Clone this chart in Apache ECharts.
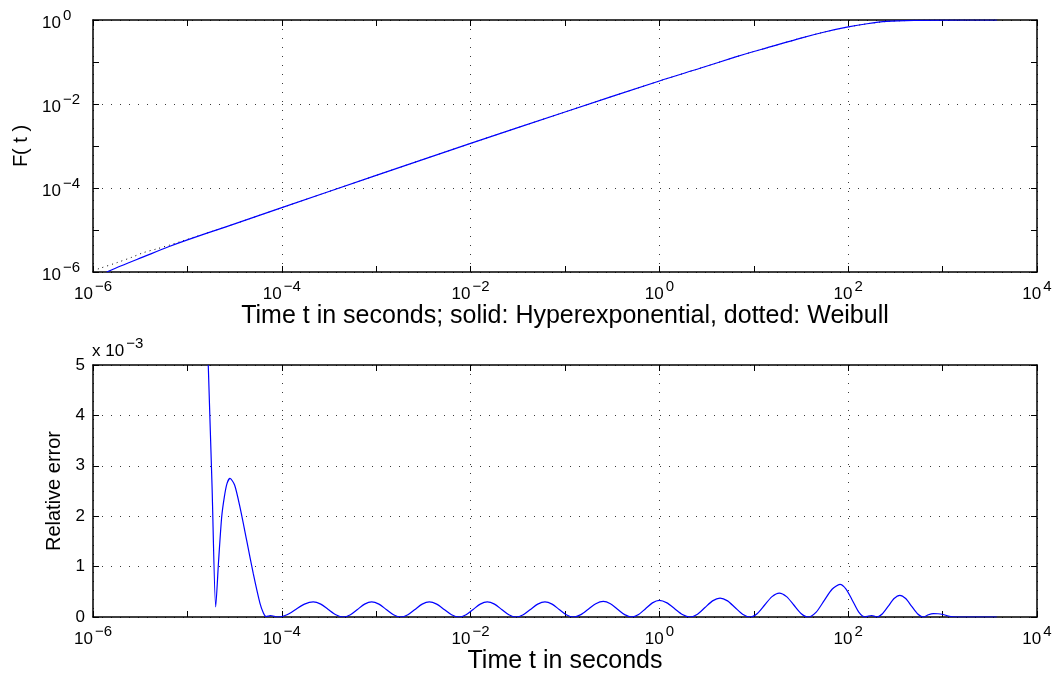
<!DOCTYPE html>
<html>
<head>
<meta charset="utf-8">
<script src="https://cdn.jsdelivr.net/npm/echarts@6/dist/echarts.min.js"></script>
<style>
  html, body { margin: 0; padding: 0; background: #fff; }
  #chart { width: 1060px; height: 677px; }
</style>
</head>
<body>
<div id="chart"></div>
<script>
// Time axis is drawn in decades: values are log10(t / s).
// Upper panel: log10 F(t) of the hyperexponential fit (solid).
const hyperLogT = [-5.855, -5.70, -5.467, -5.20, -5.00, -4.60, -4.00, -3.00, -2.00, -1.00,
                   0.00, 0.43, 0.80, 1.00, 1.136, 1.50, 1.75, 2.00, 2.20, 2.408, 2.70, 3.00, 3.576];
const hyperLogF = [-6.00, -5.85, -5.64, -5.40, -5.235, -4.93, -4.468, -3.70, -2.937, -2.19,
                   -1.452, -1.15, -0.885, -0.75, -0.665, -0.43, -0.285, -0.165, -0.09, -0.035, -0.008, -0.001, 0.00];

// Upper panel: log10 F(t) of the Weibull distribution (dotted).
const weibullLogT = [-6.00, -5.926, -5.749, -5.590, -5.467, -5.325, -5.184, -5.078, -4.60, -4.00,
                     -3.00, -2.00, -1.00, 0.00, 0.43, 0.80, 1.00, 1.136, 1.50, 1.75, 2.00, 2.20, 2.408, 2.70, 3.00, 3.576];
const weibullLogF = [-5.97, -5.912, -5.779, -5.65, -5.54, -5.45, -5.357, -5.279, -4.93, -4.468,
                     -3.70, -2.937, -2.19, -1.452, -1.15, -0.885, -0.75, -0.665, -0.43, -0.285, -0.165, -0.09, -0.035, -0.008, -0.001, 0.00];

// Lower panel: relative error between the two, in units of 10^-3.
const errLogT = [
  -4.779, -4.739, -4.700, -4.670, -4.637, -4.609, -4.580, -4.549, -4.500, -4.443,
  -4.372, -4.302, -4.231, -4.195, -4.167, -4.140, -4.118, -4.080, -4.037,
  -3.945, -3.852, -3.760, -3.667, -3.587, -3.508, -3.428, -3.348,
  -3.273, -3.198, -3.123, -3.048, -2.971, -2.894, -2.817, -2.740,
  -2.664, -2.589, -2.513, -2.437, -2.359, -2.280, -2.202, -2.123,
  -2.048, -1.973, -1.898, -1.823, -1.747, -1.671, -1.595, -1.519,
  -1.442, -1.366, -1.289, -1.212, -1.137, -1.062, -0.987, -0.912,
  -0.832, -0.753, -0.674, -0.594, -0.519, -0.444, -0.368, -0.293,
  -0.220, -0.147, -0.074, -0.001, 0.080, 0.162, 0.243, 0.324,
  0.404, 0.483, 0.563, 0.642, 0.722, 0.801, 0.881, 0.960,
  1.038, 1.115, 1.193, 1.270, 1.347, 1.424, 1.500, 1.577,
  1.661, 1.745, 1.829, 1.913, 1.979, 2.046, 2.112, 2.178,
  2.214, 2.249, 2.280, 2.302,
  2.363, 2.425, 2.486, 2.547, 2.609, 2.671, 2.734, 2.796,
  2.850, 2.901, 2.950, 3.004, 3.060, 3.110, 3.200, 3.573
];
const relErrE3 = [
  5.00, 2.60, 0.20, 1.10, 1.98, 2.38, 2.65, 2.75, 2.62, 2.18,
  1.52, 0.86, 0.27, 0.08, 0.01, 0.02, 0.03, 0.015, 0.00,
  0.045, 0.15, 0.255, 0.30, 0.255, 0.15, 0.045, 0.00,
  0.045, 0.15, 0.255, 0.30, 0.255, 0.15, 0.045, 0.00,
  0.045, 0.15, 0.255, 0.30, 0.255, 0.15, 0.045, 0.00,
  0.045, 0.15, 0.255, 0.30, 0.255, 0.15, 0.045, 0.00,
  0.045, 0.15, 0.255, 0.30, 0.255, 0.15, 0.045, 0.00,
  0.047, 0.155, 0.264, 0.31, 0.264, 0.155, 0.047, 0.00,
  0.05, 0.165, 0.28, 0.33, 0.28, 0.165, 0.05, 0.00,
  0.056, 0.188, 0.32, 0.376, 0.32, 0.188, 0.056, 0.00,
  0.071, 0.238, 0.404, 0.475, 0.404, 0.238, 0.071, 0.00,
  0.097, 0.324, 0.55, 0.647, 0.55, 0.324, 0.097, 0.00,
  0.02, 0.03, 0.015, 0.00,
  0.065, 0.215, 0.366, 0.43, 0.366, 0.215, 0.065, 0.00,
  0.045, 0.067, 0.065, 0.05, 0.02, 0.005, 0.00, 0.00
];

// Labelled decades on the time axis and on the F(t) axis.
const timeDecadeLabels = { '-6': '−6', '-4': '−4', '-2': '−2', '0': '0', '2': '2', '4': '4' };
const probDecadeLabels = { '-6': '−6', '-4': '−4', '-2': '−2', '0': '0' };
const errTickLabels = ['0', '1', '2', '3', '4', '5'];

const FONT = 'Liberation Sans, Arial, Helvetica, sans-serif';
const BLUE = '#0000ff';

const powerRich = {
  b: { fontSize: 17, fontFamily: FONT, color: '#000', lineHeight: 24, verticalAlign: 'bottom' },
  s: { fontSize: 15, fontFamily: FONT, color: '#000', lineHeight: 10, verticalAlign: 'top', padding: [0, 0, 0, 2] }
};
const powerLabel = table => v => {
  const key = String(Math.round(v));
  return table[key] !== undefined ? '{b|10}{s|' + table[key] + '}' : '';
};

const boxLine = { show: true, onZero: false, lineStyle: { color: '#000', width: 1.5 } };
const tickIn = { show: true, inside: true, length: 6, lineStyle: { color: '#000', width: 1 } };
const minorIn = { show: true, splitNumber: 2, length: 6, lineStyle: { color: '#000', width: 1 } };
const dotted = { show: true, lineStyle: { color: '#3a3a3a', width: 1, type: [1, 8] } };

function timeAxis(gridIndex, title, gap) {
  return {
    type: 'value', gridIndex, min: -6, max: 4, interval: 2,
    axisLine: boxLine, axisTick: tickIn, minorTick: minorIn, splitLine: dotted,
    axisLabel: {
      show: true, margin: 7, fontSize: 17, fontFamily: FONT, color: '#000',
      formatter: powerLabel(timeDecadeLabels), rich: powerRich
    },
    name: title, nameLocation: 'middle', nameGap: gap,
    nameTextStyle: { fontFamily: FONT, fontSize: 25, color: '#000' }
  };
}
function mirrorX(gridIndex) {
  return {
    type: 'value', gridIndex, position: 'top', min: -6, max: 4, interval: 2,
    axisLine: boxLine, axisTick: tickIn, minorTick: minorIn,
    splitLine: { show: false }, axisLabel: { show: false }
  };
}
function mirrorY(gridIndex, min, max, interval, minor) {
  return {
    type: 'value', gridIndex, position: 'right', min, max, interval,
    axisLine: boxLine, axisTick: tickIn, minorTick: minor ? minorIn : { show: false },
    splitLine: { show: false }, axisLabel: { show: false }
  };
}

const chart = echarts.init(document.getElementById('chart'), null, { renderer: 'canvas' });
chart.setOption({
  backgroundColor: '#fff',
  animation: false,
  title: {
    text: '{m|x 10}{s|−3}', left: 92, top: 336, padding: 0,
    textStyle: {
      fontSize: 17, fontWeight: 'normal', fontFamily: FONT, color: '#000',
      rich: {
        m: { fontSize: 17, fontWeight: 'normal', fontFamily: FONT, color: '#000', lineHeight: 24, verticalAlign: 'bottom' },
        s: { fontSize: 15, fontWeight: 'normal', fontFamily: FONT, color: '#000', lineHeight: 10, verticalAlign: 'top', padding: [0, 0, 0, 2] }
      }
    }
  },
  grid: [
    { left: 93, top: 20, width: 944, height: 252 },
    { left: 93, top: 365, width: 944, height: 252 }
  ],
  xAxis: [
    timeAxis(0, 'Time t in seconds; solid: Hyperexponential, dotted: Weibull', 20),
    mirrorX(0),
    timeAxis(1, 'Time t in seconds', 30),
    mirrorX(1)
  ],
  yAxis: [
    {
      type: 'value', gridIndex: 0, min: -6, max: 0, interval: 2,
      axisLine: boxLine, axisTick: tickIn, minorTick: minorIn, splitLine: dotted,
      axisLabel: {
        margin: 51, align: 'left', fontSize: 17, fontFamily: FONT, color: '#000',
        formatter: powerLabel(probDecadeLabels), rich: powerRich
      },
      name: 'F( t )', nameLocation: 'middle', nameGap: 54,
      nameTextStyle: { fontFamily: FONT, fontSize: 20, color: '#000' }
    },
    mirrorY(0, -6, 0, 2, true),
    {
      type: 'value', gridIndex: 1, min: 0, max: 5, interval: 1,
      axisLine: boxLine, axisTick: tickIn, splitLine: dotted,
      axisLabel: {
        margin: 8, fontFamily: FONT, fontSize: 17, color: '#000',
        formatter: v => errTickLabels[Math.round(v)] || ''
      },
      name: 'Relative error', nameLocation: 'middle', nameGap: 29,
      nameTextStyle: { fontFamily: FONT, fontSize: 20, color: '#000' }
    },
    mirrorY(1, 0, 5, 1, false)
  ],
  series: [
    {
      name: 'Weibull', type: 'line', xAxisIndex: 0, yAxisIndex: 0, z: 1,
      data: weibullLogT.map((x, i) => [x, weibullLogF[i]]),
      smooth: 0.3, showSymbol: false, clip: true,
      lineStyle: { color: '#000', width: 1, type: [1, 4] }
    },
    {
      name: 'Hyperexponential', type: 'line', xAxisIndex: 0, yAxisIndex: 0, z: 2,
      data: hyperLogT.map((x, i) => [x, hyperLogF[i]]),
      smooth: 0.3, showSymbol: false, clip: true,
      lineStyle: { color: BLUE, width: 1.2 }
    },
    {
      name: 'Relative error', type: 'line', xAxisIndex: 2, yAxisIndex: 2,
      data: errLogT.map((x, i) => [x, relErrE3[i]]),
      smooth: 0.25, showSymbol: false, clip: true,
      lineStyle: { color: BLUE, width: 1.2 }
    }
  ]
});
</script>
</body>
</html>
